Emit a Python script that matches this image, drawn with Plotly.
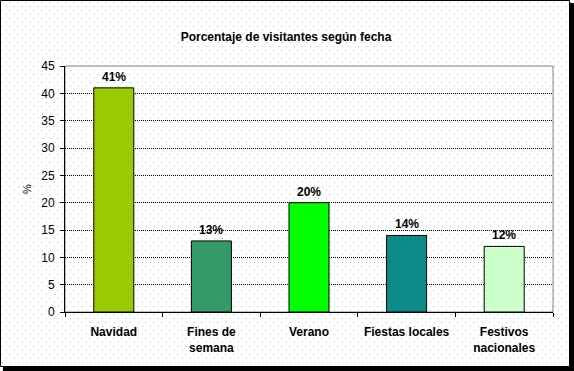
import base64
import plotly.graph_objects as go

categories = ["Navidad", "Fines de<br>semana", "Verano", "Fiestas locales", "Festivos<br>nacionales"]
values = [41, 13, 20, 14, 12]
labels = ["41%", "13%", "20%", "14%", "12%"]
colors = ["#99CC00", "#339966", "#00FF00", "#0E8A8A", "#CCFFCC"]
y_ticks = [0, 5, 10, 15, 20, 25, 30, 35, 40, 45]

W, H = 574, 371
L, R, T, B = 65, 21, 66, 59
pw, ph = W - L - R, H - T - B

def px(x):
    return (x - L) / pw

def py(y):
    return (H - B - y) / ph

FONT = "Liberation Sans, Arial, sans-serif"

# dotted background pattern (decoration)
svg = (
    f'<svg xmlns="http://www.w3.org/2000/svg" width="{W}" height="{H}" shape-rendering="crispEdges">'
    '<defs><pattern id="p" width="8" height="8" patternUnits="userSpaceOnUse">'
    '<rect x="2" y="2" width="1" height="1" fill="#c0c0c0"/>'
    '<rect x="6" y="6" width="1" height="1" fill="#c0c0c0"/>'
    '</pattern></defs>'
    f'<rect width="{W}" height="{H}" fill="white"/>'
    f'<rect width="{W}" height="{H}" fill="url(#p)"/></svg>'
)
bg_src = "data:image/svg+xml;base64," + base64.b64encode(svg.encode()).decode()

fig = go.Figure()
fig.add_trace(go.Bar(
    x=categories, y=values,
    marker=dict(color=colors, line=dict(color="black", width=1)),
    hoverinfo="skip",
))

for c, v, t in zip(categories, values, labels):
    fig.add_annotation(x=c, y=v, text="<b>" + t + "</b>", showarrow=False,
                       yanchor="bottom", yshift=2,
                       font=dict(family=FONT, size=12, color="black"))

shapes = [
    dict(type="rect", xref="paper", yref="paper", x0=0, x1=1, y0=0, y1=1,
         line=dict(color="#808080", width=1), layer="below"),
    dict(type="rect", xref="paper", yref="paper", x0=px(0.5), x1=px(569.5), y0=py(0.5), y1=py(366.5),
         line=dict(color="black", width=1)),
    dict(type="rect", xref="paper", yref="paper", x0=px(570), x1=px(574), y0=py(3), y1=py(371),
         line=dict(width=0), fillcolor="black"),
    dict(type="rect", xref="paper", yref="paper", x0=px(3), x1=px(574), y0=py(367), y1=py(371),
         line=dict(width=0), fillcolor="black"),
]

fig.update_layout(
    width=W, height=H,
    margin=dict(l=L, r=R, t=T, b=B),
    paper_bgcolor="white", plot_bgcolor="rgba(0,0,0,0)",
    showlegend=False,
    bargap=0.59,
    images=[dict(source=bg_src, xref="paper", yref="paper", x=px(0), y=py(0),
                 sizex=W / pw, sizey=H / ph, xanchor="left", yanchor="top",
                 sizing="stretch", layer="below")],
    title=dict(text="<b>Porcentaje de visitantes según fecha</b>", xref="container",
               x=286 / W, xanchor="center", yref="container",
               y=1 - 37 / H, yanchor="middle",
               font=dict(family=FONT, size=12, color="black")),
    font=dict(family=FONT, size=12, color="black"),
    shapes=shapes,
    xaxis=dict(
        showline=True, linecolor="black", linewidth=1,
        ticks="outside", tickson="boundaries", ticklen=4, tickcolor="black",
        showgrid=False, ticklabelstandoff=9,
        tickfont=dict(family=FONT, size=12, color="black"),
        tickprefix="<b>", ticksuffix="</b>",
    ),
    yaxis=dict(
        range=[0, 45], tickvals=y_ticks, ticktext=[str(v) for v in y_ticks],
        showline=True, linecolor="black", linewidth=1,
        ticks="outside", ticklen=4, tickcolor="black",
        showgrid=True, gridcolor="black", griddash="1px,1px", gridwidth=1,
        zeroline=False, ticklabelstandoff=3,
        tickfont=dict(family=FONT, size=12, color="black"),
        title=dict(text="%", standoff=7, font=dict(family=FONT, size=11, color="black")),
    ),
)

fig.write_html("out.html", config={"displayModeBar": False},
               post_script="document.body.style.margin='0';")
